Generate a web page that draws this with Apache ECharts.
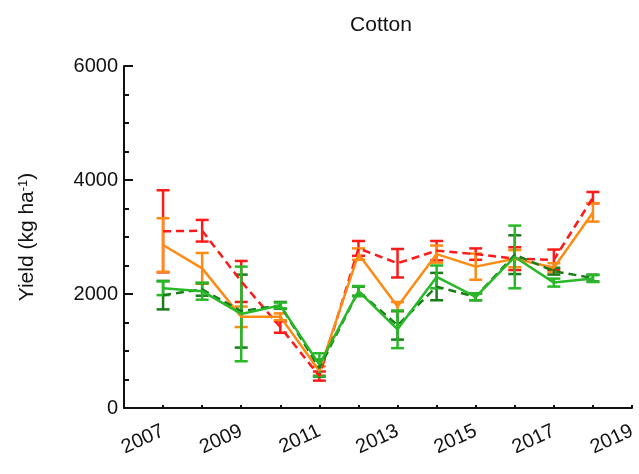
<!DOCTYPE html>
<html><head><meta charset="utf-8">
<script src="https://cdn.jsdelivr.net/npm/echarts@6/dist/echarts.min.js"></script>
<style>html,body{margin:0;padding:0;background:#fff}#c{width:639px;height:474px}</style>
</head><body><div id="c"></div>
<script>
const years = [2007,2008,2009,2010,2011,2012,2013,2014,2015,2016,2017,2018];
const redMean = [3100,3110,2220,1420,560,2800,2540,2760,2700,2620,2600,3690];
const redErr  = [720,190,360,100,80,130,250,170,100,200,180,100];
const orangeMean = [2860,2450,1600,1600,650,2700,1780,2700,2480,2620,2460,3430];
const orangeErr  = [470,270,180,60,80,100,80,150,230,150,80,160];
const dkGreenMean = [1980,2080,1700,1800,700,2050,1450,2130,1950,2690,2400,2280];
const dkGreenErr  = [250,110,640,60,150,80,250,240,60,340,60,60];
const ltGreenMean = [2100,2050,1650,1800,760,2050,1380,2300,1950,2650,2200,2270];
const ltGreenErr  = [120,150,830,50,200,90,330,200,60,550,70,60];
const yTicks = [0,2000,4000,6000];

const C = {red:'#ff1a1a', orange:'#ff8a14', dk:'#1c7c1c', lt:'#28b828'};

function pairs(m){ return years.map((y,i)=>[y,m[i]]); }
function errData(m,e){ return years.map((y,i)=>[y,m[i]-e[i],m[i]+e[i]]); }
function errSeries(m,e,color){
  return {type:'custom', data: errData(m,e), z:3,
    renderItem:function(params, api){
      const x = api.value(0);
      const lo = api.coord([x, api.value(1)]);
      const hi = api.coord([x, api.value(2)]);
      const w = 6.5;
      const st = {stroke: color, lineWidth: 2.5};
      return {type:'group', children:[
        {type:'line', shape:{x1:lo[0],y1:lo[1],x2:hi[0],y2:hi[1]}, style:st},
        {type:'line', shape:{x1:lo[0]-w,y1:lo[1],x2:lo[0]+w,y2:lo[1]}, style:st},
        {type:'line', shape:{x1:hi[0]-w,y1:hi[1],x2:hi[0]+w,y2:hi[1]}, style:st}
      ]};
    }};
}
function lineSeries(m,color,dashed){
  return {type:'line', data:pairs(m), symbol:'none', z:4,
    lineStyle:{color:color, width:2.5, type: dashed?[8,5]:'solid'}, itemStyle:{color:color}};
}

const chart = echarts.init(document.getElementById('c'), null, {renderer:'canvas'});
const font = 'Liberation Sans, Arial, Helvetica, sans-serif';
chart.setOption({
  animation:false,
  backgroundColor:'#fff',
  title:{text:'Cotton', left:376, top:10, textAlign:'center',
    textStyle:{fontFamily:font, fontSize:21, fontWeight:'normal', color:'#111'}},
  grid:{left:124, right:7, top:66, bottom:66},
  xAxis:{type:'value', min:2006, max:2019, interval:1,
    axisLine:{lineStyle:{color:'#111', width:2}},
    axisTick:{inside:true, length:3, lineStyle:{color:'#111', width:2}},
    splitLine:{show:false},
    axisLabel:{rotate:25, fontFamily:font, fontSize:20, color:'#111', margin:22,
      formatter:function(v){ return (v%2===1) ? String(v) : ''; }, showMinLabel:true, showMaxLabel:true}
  },
  yAxis:[{type:'value', min:0, max:6000, interval:2000,
    name:'{a|Yield (kg ha}{s|-1}{a|)}', nameLocation:'middle', nameGap:86, nameRotate:90,
    nameTextStyle:{rich:{a:{fontFamily:font, fontSize:21, color:'#111'}, s:{fontFamily:font, fontSize:13, color:'#111', verticalAlign:'top', padding:[0,0,8,0]}}},
    axisLine:{show:true, lineStyle:{color:'#111', width:2}},
    axisTick:{show:true, inside:true, length:9, lineStyle:{color:'#111', width:2}},
    splitLine:{show:false},
    axisLabel:{fontFamily:font, fontSize:20, color:'#111', margin:6,
      formatter:function(v){ return yTicks.indexOf(v)>=0 ? String(v) : ''; }}
  },{type:'value', min:0, max:6000, interval:500, position:'left',
    axisLine:{show:false}, axisLabel:{show:false}, splitLine:{show:false},
    axisTick:{show:true, inside:true, length:5, lineStyle:{color:'#111', width:2}}
  }],
  series:[
    lineSeries(redMean, C.red, true), errSeries(redMean, redErr, C.red),
    lineSeries(orangeMean, C.orange, false), errSeries(orangeMean, orangeErr, C.orange),
    lineSeries(dkGreenMean, C.dk, true), errSeries(dkGreenMean, dkGreenErr, C.dk),
    lineSeries(ltGreenMean, C.lt, false), errSeries(ltGreenMean, ltGreenErr, C.lt)
  ]
});
</script></body></html>
